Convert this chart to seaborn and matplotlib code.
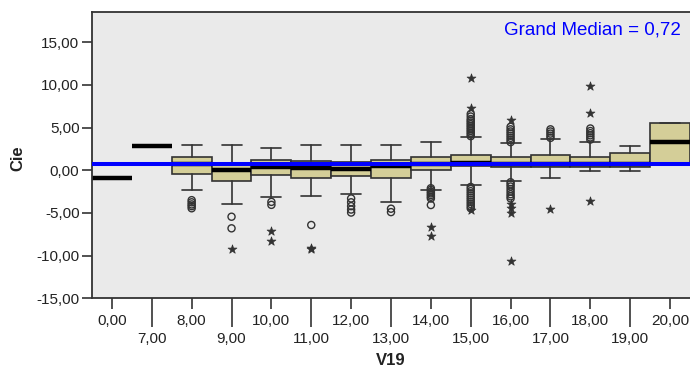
import numpy as np
import pandas as pd
import matplotlib
matplotlib.use('Agg')
import matplotlib.pyplot as plt
import seaborn as sns

# V19 groups and the box summaries
cats = [0, 7, 8, 9, 10, 11, 12, 13, 14, 15, 16, 17, 18, 19, 20]
q1 = [-0.85, 2.85, -0.47, -1.22, -0.55, -0.87, -0.67, -0.87, 0.00, 0.50, 0.35, 0.35, 0.42, 0.35, 0.82]
med = [-0.85, 2.85, 0.75, 0.04, 0.40, 0.23, 0.12, 0.45, 0.75, 0.80, 0.70, 0.75, 0.70, 0.75, 3.32]
q3 = [-0.85, 2.85, 1.59, 0.89, 1.21, 1.12, 1.03, 1.21, 1.59, 1.79, 1.59, 1.79, 1.52, 1.99, 5.58]
whislo = [-0.85, 2.85, -2.31, -3.98, -3.16, -2.98, -2.78, -3.68, -2.31, -1.72, -1.22, -0.87, -0.05, -0.05, 0.82]
whishi = [-0.85, 2.85, 2.93, 2.93, 2.65, 2.93, 2.93, 2.93, 3.32, 3.90, 3.16, 3.67, 3.35, 2.85, 5.58]

# outliers (circles) and extremes (stars)
circle_cat = ([8] * 5 + [9] * 2 + [10] * 2 + [11] + [12] * 5 + [13] * 2 + [14] * 8
              + [15] * 24 + [16] * 16 + [17] * 5 + [18] * 6)
circle_val = ([-3.5, -3.75, -4.0, -4.2, -4.45]
              + [-5.44, -6.8]
              + [-3.7, -4.05]
              + [-6.41]
              + [-3.3, -3.75, -4.2, -4.6, -4.95]
              + [-4.5, -4.9]
              + [-2.1, -2.3, -2.5, -2.7, -2.9, -3.1, -3.3, -4.07]
              + [4.0, 4.2, 4.4, 4.6, 4.8, 5.0, 5.2, 5.4, 5.6, 5.8, 6.0, 6.3, 6.6]
              + [-1.95, -2.2, -2.45, -2.7, -2.95, -3.2, -3.45, -3.7, -3.95, -4.2, -4.45]
              + [3.3, 3.55, 3.8, 4.05, 4.3, 4.55, 4.8, 5.1]
              + [-1.4, -1.65, -1.9, -2.2, -2.5, -2.8, -3.05, -3.3]
              + [3.8, 4.05, 4.3, 4.55, 4.8]
              + [3.6, 3.85, 4.1, 4.35, 4.6, 4.9])
star_cat = [9, 10, 10, 11, 11, 14, 14, 15, 15, 15, 16, 16, 16, 16, 16, 17, 18, 18, 18]
star_val = [-9.26, -7.11, -8.29, -9.05, -9.2, -6.68, -7.7, 7.3, 10.8, -4.65,
            5.95, -4.0, -4.4, -5.0, -10.6, -4.54, 6.75, 9.88, -3.6]

grand_median = 0.72
y_ticks = [-15, -10, -5, 0, 5, 10, 15]


def fmt(v):
    return f"{v:.2f}".replace('.', ',')


sns.set_style('white')
plt.rcParams['font.family'] = ['Liberation Sans', 'DejaVu Sans']

fig = plt.figure(figsize=(6.9, 3.69), dpi=100, facecolor='white')
ax = fig.add_axes([92 / 690, 1 - 298.3 / 369, 598 / 690, 286.3 / 369])
ax.set_facecolor('#EAEAEA')

pos = np.arange(len(cats))
stats = [dict(med=m, q1=a, q3=b, whislo=lo, whishi=hi, fliers=[])
         for m, a, b, lo, hi in zip(med, q1, q3, whislo, whishi)]
edge = '#333333'
ax.bxp(stats, positions=pos, widths=1.0, capwidths=0.5, patch_artist=True,
       showfliers=False,
       boxprops=dict(facecolor='#D4CE98', edgecolor=edge, linewidth=1.2),
       medianprops=dict(color='black', linewidth=3.2, solid_capstyle='butt'),
       whiskerprops=dict(color=edge, linewidth=1.2),
       capprops=dict(color=edge, linewidth=1.2))

circles = pd.DataFrame({'x': [cats.index(c) for c in circle_cat], 'y': circle_val})
stars = pd.DataFrame({'x': [cats.index(c) for c in star_cat], 'y': star_val})
sns.scatterplot(data=circles, x='x', y='y', ax=ax, marker='o', s=26,
                color=edge, facecolor='none', edgecolor=edge, linewidth=1.0, zorder=4)
sns.scatterplot(data=stars, x='x', y='y', ax=ax, marker='*', s=45,
                color=edge, edgecolor=edge, linewidth=0.5, zorder=4)

ax.axhline(grand_median, color='#0000FF', linewidth=2.9, zorder=5)
ax.text(0.985, 0.937, f"Grand Median = {fmt(grand_median)}", transform=ax.transAxes,
        ha='right', va='center', color='#0000FF', fontsize=13.5)

ax.set_xlim(-0.5, len(cats) - 0.5)
ax.set_ylim(-15, 18.55)
ax.set_yticks(y_ticks, [fmt(v) for v in y_ticks])
ax.set_xticks(pos[::2], [fmt(c) for c in cats[::2]])
ax.set_xticks(pos[1::2], [fmt(c) for c in cats[1::2]], minor=True)
ax.tick_params(axis='y', length=7.5, width=1.2, pad=1.5, labelsize=11,
               color=edge, labelcolor='#222222', left=True)
ax.tick_params(axis='x', which='major', length=8, width=1.2, pad=3.5, labelsize=11,
               color=edge, labelcolor='#222222', bottom=True)
ax.tick_params(axis='x', which='minor', length=21, width=1.2, pad=3, labelsize=11,
               color=edge, labelcolor='#222222', bottom=True)

for side in ['left', 'bottom', 'top']:
    ax.spines[side].set_color(edge)
    ax.spines[side].set_linewidth(1.3)
ax.spines['right'].set_visible(False)

ax.set_xlabel('V19', fontsize=12, fontweight='bold', color='#222222')
ax.set_ylabel('Cie', fontsize=12, fontweight='bold', color='#222222')
ax.xaxis.set_label_coords(0.5, -0.19)
ax.yaxis.set_label_coords(-0.112, 0.49)

fig.savefig('out.png', dpi=100, facecolor='white')
plt.close(fig)
